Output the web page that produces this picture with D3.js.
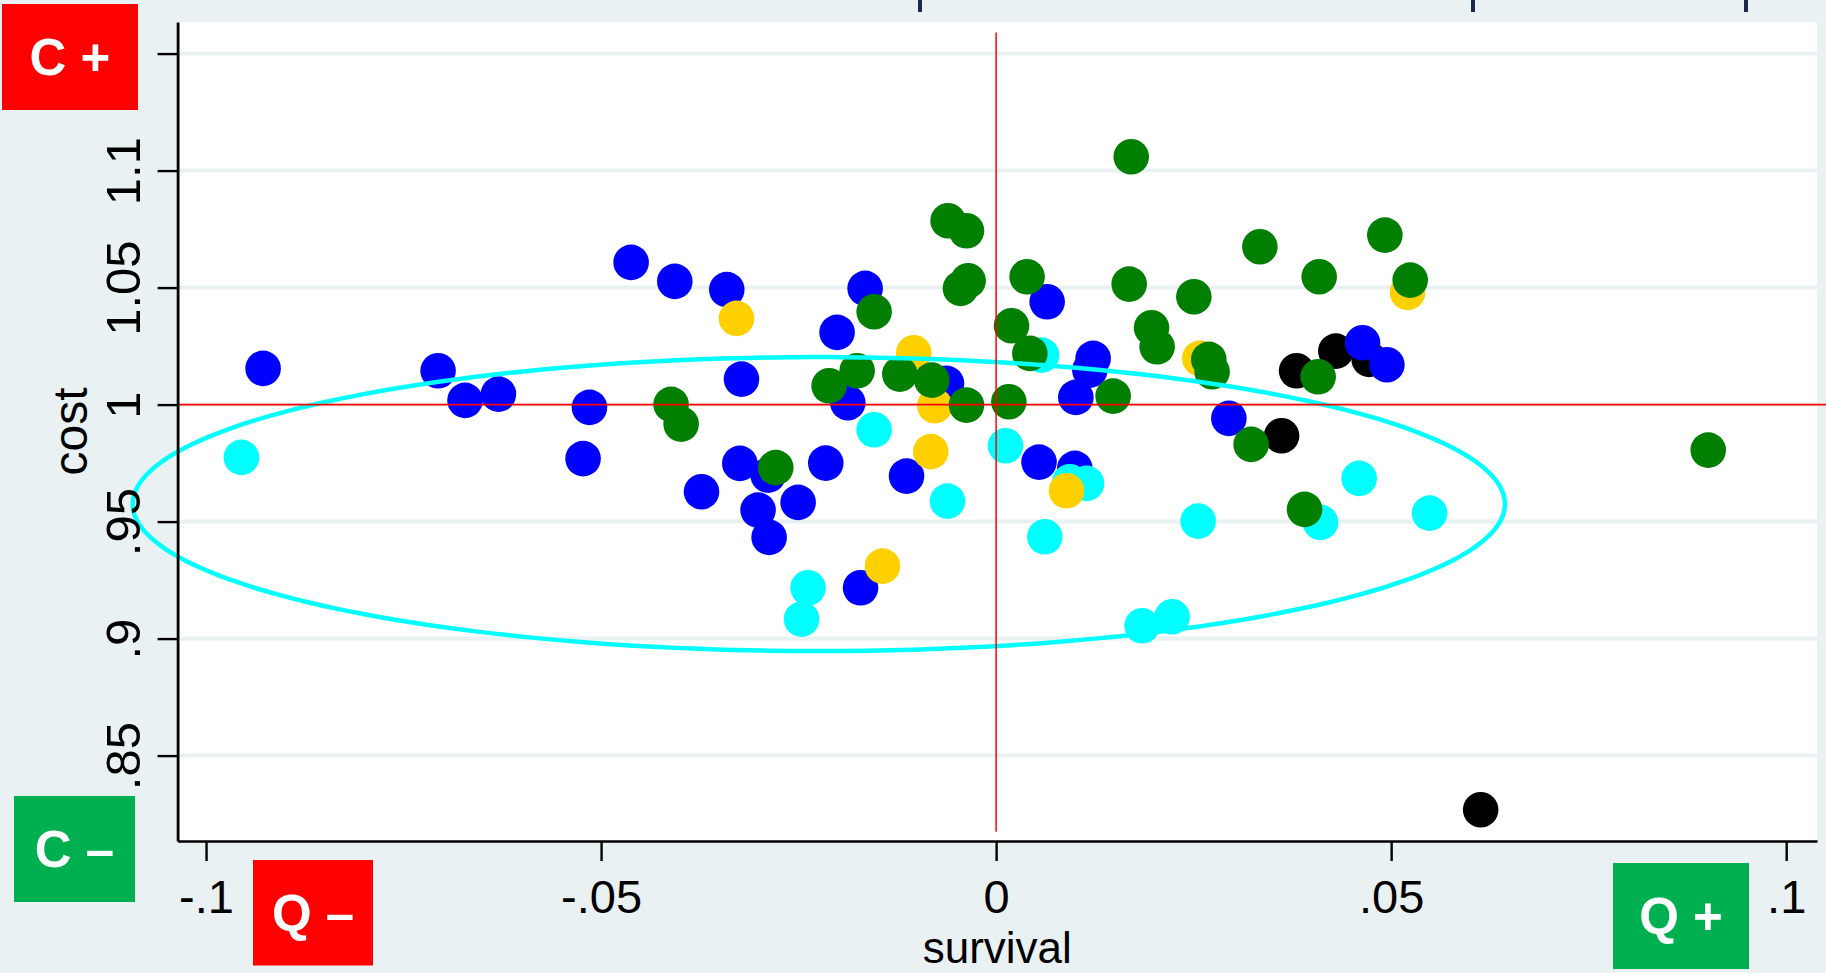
<!DOCTYPE html>
<html>
<head>
<meta charset="utf-8">
<script src="https://cdn.jsdelivr.net/npm/d3@7"></script>
<style>
  html, body { margin: 0; padding: 0; background: #EAF1F3; }
  svg { display: block; }
  text { font-family: "Liberation Sans", Arial, Helvetica, sans-serif; }
</style>
</head>
<body>
<svg id="chart" width="1826" height="973"></svg>
<script>
// ---------------- data (survival, cost) per group ----------------
const blueX = [-0.09278,-0.07063,-0.06722,-0.06299,-0.05147,-0.05228,-0.0462,-0.04067,-0.03409,-0.03223,-0.03244,-0.03729,-0.02886,-0.03013,-0.02506,-0.02873,-0.02156,-0.01658,-0.02013,-0.01877,-0.00628,-0.01134,-0.01716,0.00543,0.00646,0.01228,0.01186,0.01009,0.00996,0.02946,0.04638,0.04946];
const blueY = [1.01547,1.01444,1.00179,1.00449,0.9988,0.97692,1.06077,1.05265,1.04915,1.0109,0.97487,0.96274,0.96987,0.95491,0.9582,0.94325,0.975,1.04966,1.03085,1.00077,1.00906,0.96944,0.92171,0.97543,1.04393,1.01974,1.01474,1.00308,0.97274,0.9941,1.02641,1.01701];

const blackX = [0.03803,0.043,0.04722,0.03613,0.06133];
const blackY = [1.01444,1.02286,1.01932,0.98667,0.82684];

const cyanX = [-0.09552,-0.01544,-0.00615,-0.0238,-0.02463,0.00119,0.00575,0.00933,0.01144,0.00616,0.02557,0.01848,0.02228,0.04595,0.04106,0.05486];
const cyanY = [0.97744,0.98923,0.95876,0.92171,0.90833,0.98239,1.02115,0.96701,0.96632,0.9435,0.95021,0.90547,0.90932,0.96846,0.94966,0.95363];

const yellowX = [-0.03286,-0.01042,-0.00776,-0.00827,-0.01438,0.00891,0.02578,0.05208];
const yellowY = [1.03684,1.02214,0.99949,0.97991,0.93098,0.96316,1.01974,1.04795];

const greenX = [-0.04114,-0.03987,-0.02789,-0.02114,-0.01759,-0.01544,-0.01219,-0.00814,-0.00375,-0.00608,-0.00375,-0.00354,-0.00451,0.00161,0.00195,0.00392,0.00427,0.01481,0.01684,0.01967,0.02038,0.02503,0.02692,0.02734,0.03338,0.0492,0.04089,0.05241,0.04076,0.03228,0.03904,0.09013,0.0171];
const greenY = [1.00009,0.99167,0.97308,1.00803,1.01444,1.03966,1.01303,1.01047,0.99979,1.07855,1.07427,1.05291,1.04966,1.0012,1.03368,1.05462,1.02188,1.00363,1.0515,1.03282,1.0247,1.04607,1.01932,1.01402,1.06744,1.07244,1.05462,1.0532,1.01188,0.98299,0.95521,0.98056,1.1059];

// confidence ellipse of the cyan group: centre, semi-axes (data units)
const ellipseCenter = [-0.02244, 0.95748];
const ellipseRadii = [0.08684, 0.06282];

// reference lines
const hLineCost = 1;
const hLineSurvival = [-0.1036, 0.106];
const vLineSurvival = 0;
const vLineCost = [0.8175, 1.159];

// axes
const xDomain = [-0.1036, 0.1039];
const yDomain = [0.8135, 1.1635];
const xTicks = [-0.1, -0.05, 0, 0.05, 0.1];
const xTickLabels = ["-.1", "-.05", "0", ".05", ".1"];
const yTicks = [0.85, 0.9, 0.95, 1, 1.05, 1.1, 1.15];
const yTickLabels = [".85", ".9", ".95", "1", "1.05", "1.1", ""];
const xTitle = "survival";
const yTitle = "cost";

// quadrant labels
const quadLabels = ["C +", "C \u2013", "Q \u2013", "Q +"];
const quadColors = ["#FF0000", "#00B050", "#FF0000", "#00B050"];

// ---------------- drawing ----------------
const svg = d3.select("#chart");
const W = 1826, H = 973;
const plot = { left: 177.6, right: 1817, top: 22, bottom: 841 };

const x = d3.scaleLinear().domain(xDomain).range([plot.left, plot.right]);
const y = d3.scaleLinear().domain(yDomain).range([plot.bottom, plot.top]);

svg.append("rect").attr("width", W).attr("height", H).attr("fill", "#EAF1F3");

// decorative marks at top edge
svg.append("g").selectAll("line").data([920, 1473, 1746]).join("line")
  .attr("x1", d => d).attr("x2", d => d).attr("y1", 0).attr("y2", 12)
  .attr("stroke", "#1C2A4A").attr("stroke-width", 4);

// plot region
svg.append("rect")
  .attr("x", plot.left).attr("y", plot.top)
  .attr("width", plot.right - plot.left).attr("height", plot.bottom - plot.top)
  .attr("fill", "#FFFFFF");

// gridlines
svg.append("g").selectAll("line").data(yTicks).join("line")
  .attr("x1", plot.left).attr("x2", plot.right)
  .attr("y1", d => y(d)).attr("y2", d => y(d))
  .attr("stroke", "#EAF1F3").attr("stroke-width", 4);

// points
const groups = [
  { xs: blackX, ys: blackY, color: "#000000" },
  { xs: blueX, ys: blueY, color: "#0000FF" },
  { xs: cyanX, ys: cyanY, color: "#00FFFF" },
  { xs: yellowX, ys: yellowY, color: "#FFD000" },
  { xs: greenX, ys: greenY, color: "#007F00" }
];
const R = 17.8;
groups.forEach(g => {
  svg.append("g").selectAll("circle").data(g.xs.map((v, i) => [v, g.ys[i]])).join("circle")
    .attr("cx", d => x(d[0])).attr("cy", d => y(d[1])).attr("r", R)
    .attr("fill", g.color);
});

// ellipse
const ellPts = d3.range(0, 361, 2).map(a => {
  const t = a * Math.PI / 180;
  return [ellipseCenter[0] + ellipseRadii[0] * Math.cos(t), ellipseCenter[1] + ellipseRadii[1] * Math.sin(t)];
});
svg.append("path")
  .attr("d", d3.line().x(d => x(d[0])).y(d => y(d[1])).curve(d3.curveCardinalClosed)(ellPts))
  .attr("fill", "none").attr("stroke", "#00FFFF").attr("stroke-width", 4.5);

// reference lines
svg.append("line")
  .attr("x1", x(hLineSurvival[0])).attr("x2", x(hLineSurvival[1]))
  .attr("y1", y(hLineCost)).attr("y2", y(hLineCost))
  .attr("stroke", "#FF0000").attr("stroke-width", 1.8);
svg.append("line")
  .attr("x1", x(vLineSurvival)).attr("x2", x(vLineSurvival))
  .attr("y1", y(vLineCost[0])).attr("y2", y(vLineCost[1]))
  .attr("stroke", "#FF0000").attr("stroke-width", 1.5);

// x axis
const gx = svg.append("g").attr("transform", `translate(0,${plot.bottom})`)
  .call(d3.axisBottom(x).tickValues(xTicks).tickFormat((d, i) => xTickLabels[i])
    .tickSize(20).tickSizeOuter(0));
gx.select(".domain").attr("stroke", "#000").attr("stroke-width", 2.6);
gx.selectAll(".tick line").attr("stroke", "#000").attr("stroke-width", 2.4);
gx.selectAll(".tick text").attr("y", 71.5).attr("dy", null)
  .attr("font-size", 47).attr("fill", "#000")
  .style("font-family", "'Liberation Sans', Arial, sans-serif");

// y axis
const gy = svg.append("g").attr("transform", `translate(${plot.left},0)`)
  .call(d3.axisLeft(y).tickValues(yTicks).tickFormat((d, i) => yTickLabels[i])
    .tickSize(20).tickSizeOuter(0));
gy.select(".domain").attr("stroke", "#000").attr("stroke-width", 2.8);
gy.selectAll(".tick line").attr("stroke", "#000").attr("stroke-width", 2.4);
gy.selectAll(".tick text")
  .attr("x", 0).attr("dy", null).attr("y", 0)
  .attr("text-anchor", "middle")
  .attr("transform", `translate(${140 - plot.left},0) rotate(-90)`)
  .attr("font-size", 49).attr("fill", "#000")
  .style("font-family", "'Liberation Sans', Arial, sans-serif");

// axis titles
svg.append("text").attr("x", (plot.left + plot.right) / 2).attr("y", 963)
  .attr("text-anchor", "middle").attr("font-size", 44).attr("fill", "#000").text(xTitle);
svg.append("text")
  .attr("transform", `translate(87.4,${(plot.top + plot.bottom) / 2}) rotate(-90)`)
  .attr("text-anchor", "middle").attr("font-size", 48).attr("fill", "#000").text(yTitle);

// quadrant boxes (layout in pixels)
const boxes = [
  { x: 2, y: 4, w: 136, h: 106 },
  { x: 14, y: 796, w: 121, h: 106 },
  { x: 253, y: 860, w: 120, h: 105.5 },
  { x: 1613, y: 863, w: 136, h: 106 }
];
const qg = svg.append("g");
boxes.forEach((b, i) => {
  qg.append("rect").attr("x", b.x).attr("y", b.y).attr("width", b.w).attr("height", b.h)
    .attr("fill", quadColors[i]);
  qg.append("text").attr("x", b.x + b.w / 2).attr("y", b.y + b.h / 2 + 18)
    .attr("text-anchor", "middle").attr("font-size", 51).attr("font-weight", "bold")
    .attr("fill", "#FFFFFF").text(quadLabels[i]);
});
</script>
</body>
</html>
